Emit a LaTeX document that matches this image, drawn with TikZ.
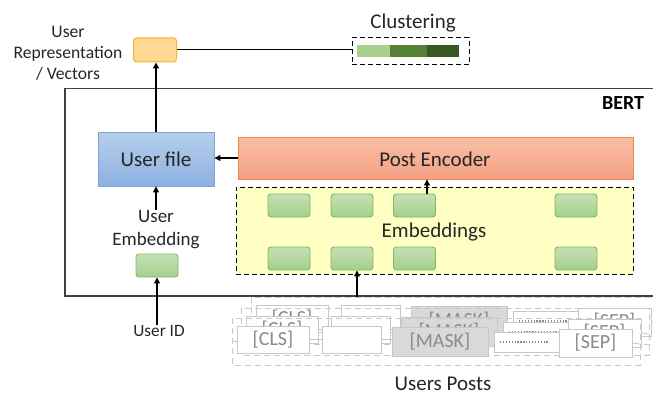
\documentclass[tikz,border=0pt]{standalone}
\usepackage{fontspec}
\setmainfont{Carlito}
\usetikzlibrary{arrows.meta}

\definecolor{repfill}{HTML}{FFD993}
\definecolor{repdraw}{HTML}{F4B42C}
\definecolor{filetop}{HTML}{B7CFEC}
\definecolor{filebot}{HTML}{8DB0E0}
\definecolor{filedraw}{HTML}{7AA3D9}
\definecolor{enctop}{HTML}{F8BFA6}
\definecolor{encbot}{HTML}{F4A083}
\definecolor{encdraw}{HTML}{EF8745}
\definecolor{embfill}{HTML}{FFFFC4}
\definecolor{gtop}{HTML}{C6E1B4}
\definecolor{gbot}{HTML}{A3CF8D}
\definecolor{gdraw}{HTML}{7DBB5C}
\definecolor{clA}{HTML}{A9D18E}
\definecolor{clB}{HTML}{548235}
\definecolor{clC}{HTML}{385723}
\definecolor{tokdraw}{HTML}{C8C8C8}
\definecolor{toktext}{HTML}{8A8A8A}
\definecolor{maskfill}{HTML}{D9D9D9}
\definecolor{bertline}{HTML}{404040}
\definecolor{labeltext}{HTML}{262626}

\tikzset{
  lbl/.style={text=labeltext, inner sep=0pt, align=center},
  arr/.style={draw=black, line width=1.2pt, -{Triangle[length=6pt,width=6pt]}},
  greenbox/.style={draw=gdraw, line width=0.9pt, rounded corners=3pt,
    top color=gtop, bottom color=gbot, minimum width=42pt, minimum height=23pt, inner sep=0pt},
  tok/.style={draw=tokdraw, line width=0.9pt, fill=white, text=toktext, inner sep=0pt,
    font=\fontsize{20}{20}\selectfont},
  maskbox/.style={tok, fill=maskfill},
  postouter/.style={draw=tokdraw, line width=0.8pt, dash pattern=on 6pt off 4pt},
  tokline/.style={draw=tokdraw, line width=0.8pt}
}

\begin{document}
\begin{tikzpicture}[x=1pt,y=-1pt]
\clip (0,0) rectangle (653,396);
\fill[white] (0,0) rectangle (653,396);

% ---- stacked user posts (back to front) ----
\foreach \dx/\dy/\l in {19/-21/c, 9/-10/b, 0/0/a}{
  \begin{scope}[shift={(\dx,\dy)}]
    \draw[postouter] (232,318) rectangle (640,365);
    \coordinate (lend\l) at (232,341);
    \coordinate (rend\l) at (640,344);
    \node[tok, minimum width=72pt, minimum height=27pt] (cls\l) at (273,339.5) {[CLS]};
    \node[tok, minimum width=59pt, minimum height=27pt] (blk\l) at (351.5,339.5) {};
    \node[tok, minimum width=67pt, minimum height=20pt] (dot\l) at (528,342) {};
    \draw[toktext, line width=1.3pt, dash pattern=on 1.3pt off 1.6pt]
      ([xshift=6pt]dot\l.west) -- ([xshift=-14pt]dot\l.east);
    \node[maskbox, minimum width=96pt, minimum height=29pt] (msk\l) at (440,341.5) {[MASK]};
    \node[tok, minimum width=73pt, minimum height=28pt] (sep\l) at (595.5,343) {[SEP]};
    \draw[tokline] (lend\l) -- (lend\l -| cls\l.west);
    \draw[tokline] (cls\l.east) -- (blk\l.west);
    \draw[tokline] (blk\l.east) -- (blk\l.east -| msk\l.west);
    \draw[tokline] (sep\l.east) -- (rend\l);
  \end{scope}
}

% ---- BERT frame ----
\node[draw=bertline, line width=1.5pt, minimum width=592pt, minimum height=207.5pt,
  inner sep=0pt] (bert) at (361,192.25) {};
\node[font=\bfseries\fontsize{20}{20}\selectfont, inner sep=0pt] (bertlbl) at (623,103) {BERT};

% ---- embeddings ----
\node[draw=black, line width=1pt, dash pattern=on 5pt off 3pt, fill=embfill,
  minimum width=397pt, minimum height=87pt, inner sep=0pt] (emb) at (434.5,230.5) {};
\node[lbl, font=\fontsize{21}{21}\selectfont] (embl) at (434,232) {Embeddings};
\node[greenbox] (e1t) at (289,205.5) {};
\node[greenbox] (e2t) at (352,205.5) {};
\node[greenbox] (e3t) at (414.5,205.5) {};
\node[greenbox] (e4t) at (576,205.5) {};
\node[greenbox] (e1b) at (289,258.5) {};
\node[greenbox] (e2b) at (352,258.5) {};
\node[greenbox] (e3b) at (414.5,258.5) {};
\node[greenbox] (e4b) at (576,258.5) {};

% ---- post encoder ----
\node[draw=encdraw, line width=0.9pt, top color=enctop, bottom color=encbot,
  minimum width=395pt, minimum height=42pt, inner sep=0pt] (penc) at (435.5,158) {};
\node[lbl, font=\fontsize{21}{21}\selectfont] (pencl) at (435,159) {Post Encoder};

% ---- user file ----
\node[draw=filedraw, line width=0.9pt, top color=filetop, bottom color=filebot,
  minimum width=116pt, minimum height=54pt, inner sep=0pt,
  text=labeltext, font=\fontsize{21}{21}\selectfont] (ufile) at (156,159) {User file};

% ---- user embedding ----
\node[lbl, font=\fontsize{19}{23}\selectfont] (uembl) at (156,229.5) {User\\Embedding};
\node[greenbox] (uemb) at (157,265.5) {};
\node[lbl, font=\fontsize{17.3}{20}\selectfont] (uid) at (159,331) {User ID};

% ---- user representation ----
\node[draw=repdraw, line width=1pt, fill=repfill, rounded corners=3pt,
  minimum width=43pt, minimum height=24pt, inner sep=0pt] (urep) at (155,50) {};
\node[lbl, font=\fontsize{17.6}{21}\selectfont] (urepl) at (68,53) {User\\Representation\\/ Vectors};

% ---- clustering ----
\node[draw=black, line width=1pt, dash pattern=on 5pt off 3pt,
  minimum width=117pt, minimum height=27pt, inner sep=0pt] (clus) at (410.5,51.5) {};
\fill[clA] (357,45) rectangle (390,57);
\fill[clB] (390,45) rectangle (427,57);
\fill[clC] (427,45) rectangle (459,57);
\node[lbl, font=\fontsize{21}{21}\selectfont] (clusl) at (413,23) {Clustering};
\draw[black, line width=1pt] (urep.east) -- (urep.east -| clus.west);

% ---- Users Posts label ----
\node[lbl, font=\fontsize{21}{21}\selectfont] (postsl) at (443,384) {Users Posts};

% ---- connectors ----
\draw[arr] (ufile.north) -- (ufile.north |- urep.south);
\draw[arr] (penc.west) -- (penc.west -| ufile.east);
\draw[arr] ([xshift=12.5pt]e3t.north) -- ([xshift=12.5pt]e3t.north |- penc.south);
\coordinate (ptop) at (357,297);
\draw[arr] (ptop) -- (ptop |- e2b.south);
\draw[arr] (uembl.north -| ufile.south) -- (ufile.south);
\draw[arr] (uid.north -| uemb.south) -- (uemb.south);
\end{tikzpicture}
\end{document}
